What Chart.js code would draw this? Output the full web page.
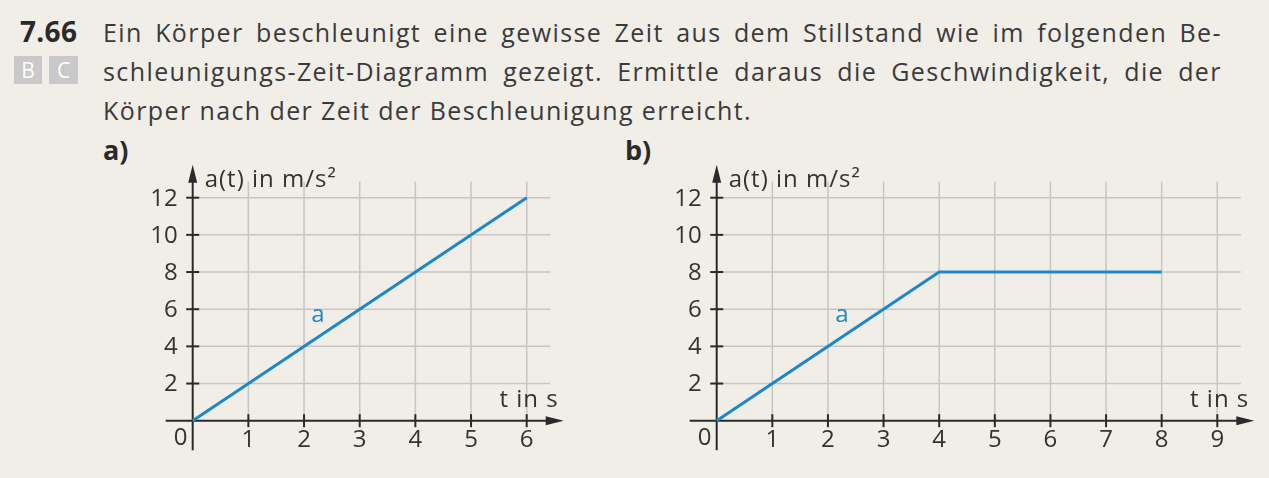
<!DOCTYPE html>
<html>
<head>
<meta charset="utf-8">
<script src="https://cdn.jsdelivr.net/npm/chart.js@4.4.1/dist/chart.umd.min.js"></script>
<style>
  html, body { margin:0; padding:0; }
  body { width:1269px; height:478px; background:#f1eee8; position:relative; overflow:hidden;
         font-family:"Open Sans", "Noto Sans", sans-serif; color:#3a3a3a; }
  .abs { position:absolute; white-space:nowrap; }
  .num { left:20px; top:12px; font-size:28px; line-height:39px; font-weight:700; color:#2a2a2a; letter-spacing:0.3px; }
  .badge { top:56px; width:28px; height:28px; background:#c9c9c9; color:#fff; font-size:21px;
           line-height:28px; text-align:center; font-weight:500; }
  .line { left:103px; width:1119px; font-size:25px; line-height:39px; display:flex; justify-content:space-between; letter-spacing:1.4px; }
  .line3 { left:103px; font-size:25px; line-height:39px; letter-spacing:1.4px; }
  .part { font-size:27px; line-height:39px; font-weight:700; color:#2a2a2a; top:130px; }
  canvas { position:absolute; }
</style>
</head>
<body>
<div class="abs num">7.66</div>
<div class="abs badge" style="left:14px;">B</div>
<div class="abs badge" style="left:49px;width:29px;">C</div>
<div class="abs line" id="l1" style="top:13px;"></div>
<div class="abs line" id="l2" style="top:52px;"></div>
<div class="abs line3" style="top:91px;">Körper nach der Zeit der Beschleunigung erreicht.</div>
<div class="abs part" style="left:103px;">a)</div>
<div class="abs part" style="left:625px;">b)</div>
<canvas id="ca" width="440" height="320" style="left:140px;top:150px;"></canvas>
<canvas id="cb" width="600" height="320" style="left:660px;top:150px;"></canvas>
<script>
// ---- data ----
const timeA = [0, 6];
const accelA = [0, 12];
const timeB = [0, 4, 8];
const accelB = [0, 8, 8];
const xTicksA = [1, 2, 3, 4, 5, 6];
const xTicksB = [1, 2, 3, 4, 5, 6, 7, 8, 9];
const yTicks = [2, 4, 6, 8, 10, 12];
const yAxisTitle = "a(t) in m/s²";
const xAxisTitle = "t in s";
const seriesName = "a";

// ---- justified text lines ----
function fillLine(id, text) {
  const el = document.getElementById(id);
  text.split(" ").forEach(w => { const s = document.createElement("span"); s.textContent = w; el.appendChild(s); });
}
fillLine("l1", "Ein Körper beschleunigt eine gewisse Zeit aus dem Stillstand wie im folgenden Be-");
fillLine("l2", "schleunigungs-Zeit-Diagramm gezeigt. Ermittle daraus die Geschwindigkeit, die der");

const BLUE = "#1c87c9", GRID = "#c6c6c6", AXIS = "#2a2a2a", TXT = "#333333";
const FONT = '"Open Sans", "Noto Sans", sans-serif';

function seg(ctx, x1, y1, x2, y2) { ctx.beginPath(); ctx.moveTo(x1, y1); ctx.lineTo(x2, y2); ctx.stroke(); }

const deco = {
  id: 'deco',
  beforeDatasetsDraw(chart, args, o) {
    const { ctx, scales: { x, y } } = chart;
    const x0 = x.getPixelForValue(0), y0 = y.getPixelForValue(0);
    const lastX = x.getPixelForValue(o.xTicks[o.xTicks.length - 1]);
    const topY = y.getPixelForValue(o.yTicks[o.yTicks.length - 1]);
    ctx.save();
    // grid
    ctx.strokeStyle = GRID; ctx.lineWidth = 1.5;
    o.xTicks.forEach(v => { const p = x.getPixelForValue(v); seg(ctx, p, y0, p, topY - 16); });
    o.yTicks.forEach(v => { const p = y.getPixelForValue(v); seg(ctx, x0, p, lastX + 23.5, p); });
    // axes
    ctx.strokeStyle = AXIS; ctx.fillStyle = AXIS; ctx.lineWidth = 2;
    const xEnd = lastX + 37, yEnd = topY - 33;
    seg(ctx, x0 - 27, y0, xEnd - 10, y0);
    seg(ctx, x0, y0 + 29.5, x0, yEnd + 10);
    ctx.beginPath(); ctx.moveTo(xEnd, y0); ctx.lineTo(xEnd - 18, y0 - 4.5); ctx.lineTo(xEnd - 18, y0 + 4.5); ctx.closePath(); ctx.fill();
    ctx.beginPath(); ctx.moveTo(x0, yEnd); ctx.lineTo(x0 - 4.5, yEnd + 18); ctx.lineTo(x0 + 4.5, yEnd + 18); ctx.closePath(); ctx.fill();
    // tick marks
    o.xTicks.forEach(v => { const p = x.getPixelForValue(v); seg(ctx, p, y0 - 6.5, p, y0 + 6.5); });
    o.yTicks.forEach(v => { const p = y.getPixelForValue(v); seg(ctx, x0 - 6.5, p, x0 + 6.5, p); });
    // tick labels
    ctx.fillStyle = TXT; ctx.font = '24px ' + FONT;
    ctx.textAlign = 'right'; ctx.textBaseline = 'middle';
    o.yTicks.forEach(v => ctx.fillText(String(v), x0 - 15, y.getPixelForValue(v) + 1));
    ctx.textAlign = 'center';
    o.xTicks.forEach(v => ctx.fillText(String(v), x.getPixelForValue(v), y0 + 19));
    ctx.fillText("0", x0 - 12, y0 + 17);
    // axis titles
    ctx.font = '24px ' + FONT; ctx.textBaseline = 'alphabetic';
    ctx.letterSpacing = '1px';
    ctx.textAlign = 'left'; ctx.fillText(o.yTitle, x0 + 12, topY - 11);
    ctx.textAlign = 'right'; ctx.fillText(o.xTitle, lastX + 32, y0 - 14);
    ctx.restore();
  },
  afterDatasetsDraw(chart, args, o) {
    const { ctx, scales: { x, y } } = chart;
    ctx.save();
    ctx.fillStyle = BLUE; ctx.font = '24px ' + FONT;
    ctx.textAlign = 'center'; ctx.textBaseline = 'middle';
    ctx.fillText(o.name, x.getPixelForValue(o.nameAt[0]), y.getPixelForValue(o.nameAt[1]));
    ctx.restore();
  }
};

function makeChart(id, times, accel, xTicks, xMax, pad) {
  return new Chart(document.getElementById(id), {
    type: 'line',
    data: { datasets: [{ label: seriesName, data: times.map((t, i) => ({ x: t, y: accel[i] })),
      borderColor: BLUE, borderWidth: 3, pointRadius: 0, tension: 0, clip: false, fill: false }] },
    options: {
      responsive: false, animation: false, devicePixelRatio: 1,
      layout: { padding: pad },
      scales: {
        x: { type: 'linear', min: 0, max: xMax, display: false },
        y: { type: 'linear', min: 0, max: 12, display: false }
      },
      plugins: {
        legend: { display: false }, tooltip: { enabled: false },
        deco: { xTicks: xTicks, yTicks: yTicks, yTitle: yAxisTitle, xTitle: xAxisTitle, name: seriesName, nameAt: [2.25, 5.7] }
      }
    },
    plugins: [deco]
  });
}
makeChart('ca', timeA, accelA, xTicksA, 6, { left: 52.7, right: 53.3, top: 47.7, bottom: 49.3 });
makeChart('cb', timeB, accelB, xTicksB, 9, { left: 56.7, right: 42.7, top: 47.7, bottom: 49.3 });
</script>
</body>
</html>
